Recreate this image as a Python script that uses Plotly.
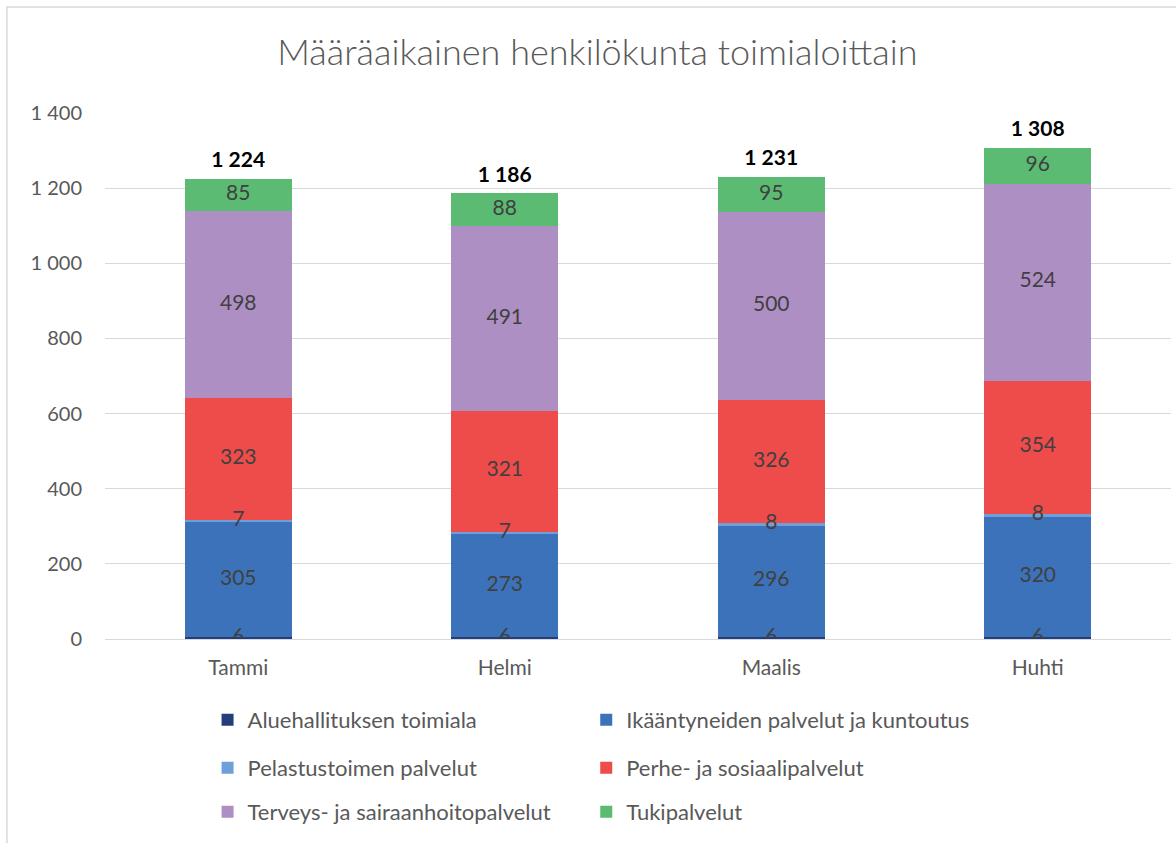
import plotly.graph_objects as go

categories = ["Tammi", "Helmi", "Maalis", "Huhti"]
series_names = [
    "Aluehallituksen toimiala",
    "Ikääntyneiden palvelut ja kuntoutus",
    "Pelastustoimen palvelut",
    "Perhe- ja sosiaalipalvelut",
    "Terveys- ja sairaanhoitopalvelut",
    "Tukipalvelut",
]
aluehallitus = [6, 6, 6, 6]
ikaantyneet = [305, 273, 296, 320]
pelastus = [7, 7, 8, 8]
perhe = [323, 321, 326, 354]
terveys = [498, 491, 500, 524]
tuki = [85, 88, 95, 96]
series_values = [aluehallitus, ikaantyneet, pelastus, perhe, terveys, tuki]
colors = ["#233E7A", "#3C72BA", "#6F9FD8", "#EE4B4B", "#AE8FC3", "#5BBB72"]
title_text = "Määräaikainen henkilökunta toimialoittain"

FONT = "Lato"
GREY = "#595959"

fig = go.Figure()

legend_ids = ["legend", "legend2", "legend3", "legend4", "legend5", "legend6"]
for name, vals, col, lg in zip(series_names, series_values, colors, legend_ids):
    fig.add_trace(go.Bar(
        x=categories, y=vals, name=name, marker=dict(color=col, line=dict(width=0)),
        legend=lg, hoverinfo="skip",
    ))

# segment labels at segment midpoints
cum = [0] * len(categories)
for vals in series_values:
    mids = [c + v / 2 for c, v in zip(cum, vals)]
    fig.add_trace(go.Scatter(
        x=categories, y=mids, mode="text", text=[str(v) for v in vals],
        textposition="middle center", textfont=dict(family=FONT, size=21, color="#404040"),
        showlegend=False, hoverinfo="skip",
    ))
    cum = [c + v for c, v in zip(cum, vals)]

totals = cum
fig.add_trace(go.Scatter(
    x=categories, y=totals, mode="markers+text", texttemplate="<b>%{y:,}</b>",
    marker=dict(size=9, color="rgba(0,0,0,0)"),
    textposition="top center", textfont=dict(family=FONT, size=21, color="#000000"),
    showlegend=False, hoverinfo="skip",
))

legend_common = dict(
    orientation="h", xref="container", yref="container", xanchor="left", yanchor="middle",
    font=dict(family=FONT, size=22, color=GREY), bgcolor="rgba(0,0,0,0)",
)
col_x = [0.1765, 0.4985]
row_y = [1 - 720 / 843, 1 - 768 / 843, 1 - 812 / 843]
legend_layout = {}
for i, lg in enumerate(legend_ids):
    legend_layout[lg] = dict(**legend_common, x=col_x[i % 2], y=row_y[i // 2])

fig.update_layout(
    width=1176, height=843,
    paper_bgcolor="white", plot_bgcolor="white",
    margin=dict(l=105, r=5, t=113, b=204),
    separators=", ",
    barmode="stack", bargap=0.6,
    title=dict(text=title_text, x=0.508, xanchor="center", y=1 - 52 / 843, yanchor="middle",
               font=dict(family=FONT, size=36, color=GREY, weight=300)),
    xaxis=dict(showgrid=False, showline=False, ticks="", zeroline=False, ticklabelstandoff=14,
               tickfont=dict(family=FONT, size=21, color=GREY)),
    yaxis=dict(range=[0, 1400], dtick=200, showgrid=True, gridcolor="#D9D9D9", gridwidth=1,
               zeroline=True, zerolinecolor="#D9D9D9", zerolinewidth=1, showline=False,
               separatethousands=True, ticks="", ticklen=0, ticklabelstandoff=22,
               tickfont=dict(family=FONT, size=20, color=GREY)),
    shapes=[dict(type="rect", xref="paper", yref="paper", x0=-0.092, x1=1.05, y0=-0.6, y1=1.2015,
                 line=dict(color="#D9D9D9", width=1.5), layer="below")],
    showlegend=True,
    **legend_layout,
)

fig.write_html("out.html", config={"displayModeBar": False},
               post_script="document.body.style.margin='0';document.body.style.overflow='hidden';")
